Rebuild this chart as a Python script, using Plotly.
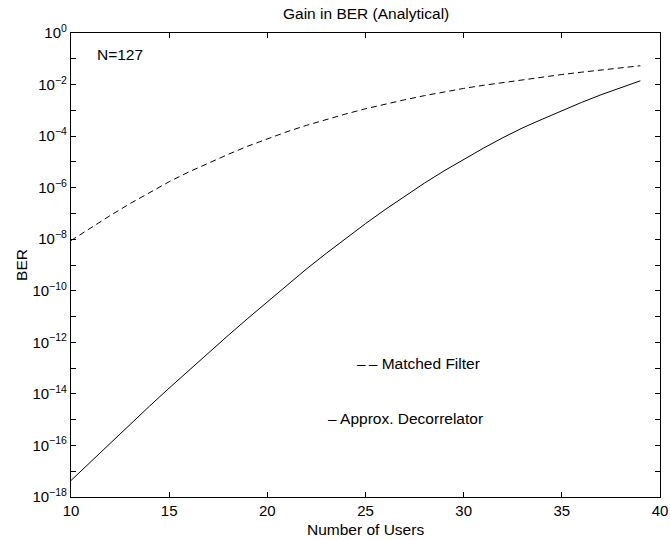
import plotly.graph_objects as go

users = list(range(10, 40))
ber_matched = [8.9e-9, 2.82e-8, 8.3e-8, 2.4e-7, 6.6e-7, 1.7e-6, 4.07e-6, 9.1e-6, 1.95e-5, 4.07e-5,
               7.9e-5, 1.48e-4, 2.63e-4, 4.47e-4, 7.24e-4, 1.15e-3, 1.74e-3, 2.57e-3, 3.72e-3, 5.25e-3,
               7.08e-3, 9.33e-3, 1.2e-2, 1.55e-2, 1.95e-2, 2.45e-2, 3.02e-2, 3.72e-2, 4.47e-2, 5.37e-2]
ber_decorr = [4.37e-18, 2.34e-17, 1.24e-16, 6.53e-16, 3.35e-15, 1.68e-14, 8.22e-14, 3.94e-13, 1.84e-12, 8.41e-12,
              3.72e-11, 1.58e-10, 7.08e-10, 2.82e-9, 1.1e-8, 4.03e-8, 1.41e-7, 4.73e-7, 1.5e-6, 4.47e-6,
              1.26e-5, 3.39e-5, 8.71e-5, 2.09e-4, 4.52e-4, 9.77e-4, 2.02e-3, 4.03e-3, 7.67e-3, 1.4e-2]

exps = list(range(-18, 1))
ytick_vals = [10.0 ** e for e in exps]
ytick_text = [("10<sup>%s</sup>" % (str(e).replace("-", "\u2212")) if e % 2 == 0 else "") for e in exps]
xtick_vals = [10, 15, 20, 25, 30, 35, 40]

FAM = "Liberation Sans, Arial, Helvetica, sans-serif"
font = dict(family=FAM, size=15.5, color="black")
tfont = dict(family=FAM, size=15, color="black")

fig = go.Figure()
fig.add_trace(go.Scatter(x=users, y=ber_matched, mode="lines",
                         line=dict(color="black", width=1, dash="6px,4px"), name="Matched Filter"))
fig.add_trace(go.Scatter(x=users, y=ber_decorr, mode="lines",
                         line=dict(color="black", width=1), name="Approx. Decorrelator"))

fig.add_annotation(x=11.2, y=-0.82, xref="x", yref="y", text="N=127", showarrow=False,
                   xanchor="left", yanchor="middle", font=font)
fig.add_annotation(x=24.45, y=-12.83, xref="x", yref="y", text="\u2013\u2009\u2013 Matched Filter",
                   showarrow=False, xanchor="left", yanchor="middle", font=font)
fig.add_annotation(x=23.0, y=-14.94, xref="x", yref="y", text="\u2013 Approx. Decorrelator",
                   showarrow=False, xanchor="left", yanchor="middle", font=font)
# title and axis titles
fig.add_annotation(x=0.5, y=1.041, xref="paper", yref="paper", text="Gain in BER (Analytical)",
                   showarrow=False, xanchor="center", yanchor="middle", font=font)
fig.add_annotation(x=0.5, y=-0.069, xref="paper", yref="paper", text="Number of Users",
                   showarrow=False, xanchor="center", yanchor="middle", font=font)
fig.add_annotation(x=-0.085, y=0.5, xref="paper", yref="paper", text="BER", textangle=-90,
                   showarrow=False, xanchor="center", yanchor="middle", font=font)

fig.update_layout(
    width=670, height=540,
    margin=dict(l=71, r=10, t=33, b=43),
    paper_bgcolor="white", plot_bgcolor="white",
    showlegend=False,
    font=font,
    xaxis=dict(range=[10, 40], tickvals=xtick_vals, ticks="inside", ticklen=5, tickwidth=1,
               tickcolor="black", showline=True, linecolor="black", linewidth=1.2, mirror="ticks",
               showgrid=False, zeroline=False, automargin=False, tickfont=tfont),
    yaxis=dict(type="log", range=[-18, 0], tickvals=ytick_vals, ticktext=ytick_text,
               ticks="inside", ticklen=5, tickwidth=1, tickcolor="black", showline=True,
               linecolor="black", linewidth=1.2, mirror="ticks", showgrid=False, zeroline=False,
               automargin=False, tickfont=tfont),
)

fig.write_html("out.html", config={"displayModeBar": False},
               post_script="document.body.style.margin='0';document.body.style.overflow='hidden';")
